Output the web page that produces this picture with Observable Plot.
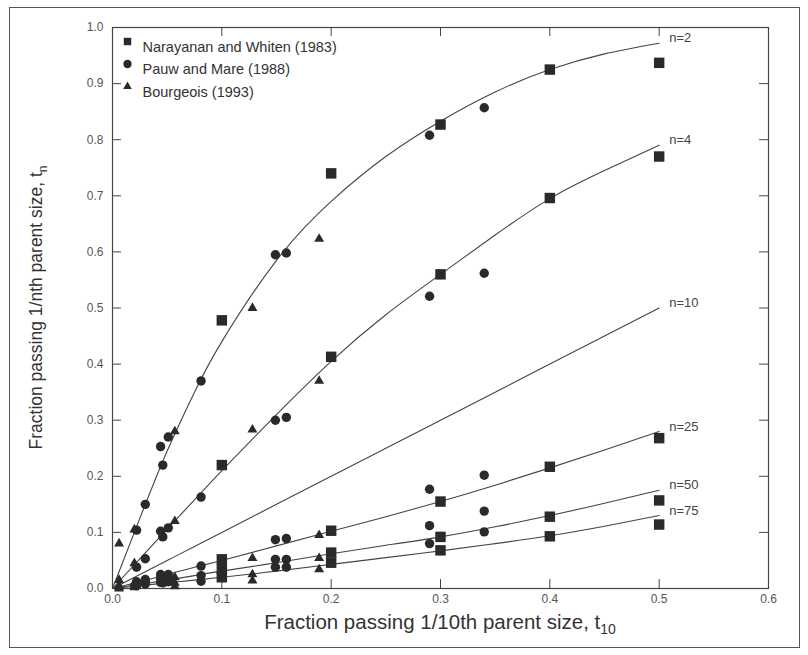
<!DOCTYPE html>
<html><head><meta charset="utf-8">
<script src="https://cdn.jsdelivr.net/npm/d3@7"></script>
<script src="https://cdn.jsdelivr.net/npm/@observablehq/plot@0.6"></script>
<style>
body{margin:0;background:#fff;}
#wrap{position:relative;width:808px;height:655px;}
#border{position:absolute;left:9px;top:7px;width:791px;height:641px;border:1px solid #555;box-sizing:border-box;pointer-events:none;}
#chart{position:absolute;left:0;top:0;}
</style></head><body>
<div id="wrap"><div id="chart"></div><div id="border"></div></div>
<script>
// ---- Data ----
const xTicks = [0, 0.1, 0.2, 0.3, 0.4, 0.5, 0.6];
const yTicks = [0, 0.1, 0.2, 0.3, 0.4, 0.5, 0.6, 0.7, 0.8, 0.9, 1.0];

// fitted curves (t_n vs t10)
const curveX   = [0, 0.025, 0.05, 0.075, 0.1, 0.15, 0.2, 0.25, 0.3, 0.35, 0.4, 0.45, 0.5];
const curveN2  = [0, 0.125, 0.245, 0.35, 0.44, 0.585, 0.69, 0.77, 0.833, 0.885, 0.925, 0.953, 0.972];
const curveN4  = [0, 0.053, 0.106, 0.158, 0.21, 0.31, 0.405, 0.488, 0.56, 0.63, 0.695, 0.745, 0.79];
const curveN10 = [0, 0.025, 0.05, 0.075, 0.1, 0.15, 0.2, 0.25, 0.3, 0.35, 0.4, 0.45, 0.5];
const curveN25 = [0, 0.012, 0.025, 0.038, 0.05, 0.076, 0.102, 0.128, 0.155, 0.184, 0.215, 0.247, 0.28];
const curveN50 = [0, 0.0075, 0.015, 0.023, 0.031, 0.046, 0.062, 0.077, 0.092, 0.11, 0.13, 0.152, 0.175];
const curveN75 = [0, 0.005, 0.01, 0.015, 0.02, 0.031, 0.043, 0.055, 0.067, 0.08, 0.094, 0.111, 0.13];
const curveLabels = ["n=2", "n=4", "n=10", "n=25", "n=50", "n=75"];

// Narayanan and Whiten (1983) - squares
const nwT10 = [0.1, 0.2, 0.3, 0.4, 0.5];
const nwN2  = [0.478, 0.74, 0.827, 0.925, 0.937];
const nwN4  = [0.22, 0.413, 0.56, 0.696, 0.77];
const nwN25 = [0.052, 0.103, 0.155, 0.217, 0.268];
const nwN50 = [0.035, 0.064, 0.092, 0.128, 0.157];
const nwN75 = [0.02, 0.046, 0.068, 0.093, 0.114];

// Pauw and Mare (1988) - circles
const pmT10 = [0.022, 0.03, 0.044, 0.046, 0.051, 0.081, 0.149, 0.159, 0.29, 0.34];
const pmN2  = [0.104, 0.15, 0.253, 0.22, 0.27, 0.37, 0.595, 0.598, 0.808, 0.857];
const pmN4  = [0.038, 0.053, 0.102, 0.092, 0.108, 0.163, 0.30, 0.305, 0.521, 0.562];
const pmN25 = [0.012, 0.016, 0.025, 0.02, 0.025, 0.04, 0.087, 0.089, 0.177, 0.202];
const pmN50 = [0.008, 0.012, 0.018, 0.015, 0.018, 0.023, 0.052, 0.052, 0.112, 0.138];
const pmN75 = [0.005, 0.008, 0.011, 0.01, 0.012, 0.013, 0.038, 0.038, 0.08, 0.101];

// Bourgeois (1993) - triangles
const bgT10 = [0.006, 0.02, 0.057, 0.128, 0.189];
const bgN2  = [0.08, 0.105, 0.28, 0.50, 0.623];
const bgN4  = [0.015, 0.045, 0.12, 0.283, 0.37];
const bgN25 = [0.005, 0.01, 0.02, 0.054, 0.095];
const bgN50 = [0.002, 0.005, 0.01, 0.025, 0.054];
const bgN75 = [0.0, 0.002, 0.004, 0.014, 0.034];

const legendLabels  = ["Narayanan and Whiten (1983)", "Pauw and Mare (1988)", "Bourgeois (1993)"];
const legendSymbols = ["square", "circle", "triangle"];

// ---- Build tables ----
const curveSeries = [curveN2, curveN4, curveN10, curveN25, curveN50, curveN75];
const curves = curveSeries.flatMap((ys, k) => ys.map((y, i) => ({n: curveLabels[k], x: curveX[i], y})));
const curveEnds = curveSeries.map((ys, k) => ({n: curveLabels[k], x: curveX[curveX.length - 1], y: ys[ys.length - 1]}));
const toPts = (xs, series) => series.flatMap(ys => ys.map((y, i) => ({x: xs[i], y})));
const nwPts = toPts(nwT10, [nwN2, nwN4, nwN25, nwN50, nwN75]);
const pmPts = toPts(pmT10, [pmN2, pmN4, pmN25, pmN50, pmN75]);
const bgPts = toPts(bgT10, [bgN2, bgN4, bgN25, bgN50, bgN75]);

const W = 808, H = 655, mL = 112, mR = 40, mT = 27, mB = 67;
const pw = W - mL - mR, ph = H - mT - mB;
const ink = "#2a2a2a";
const narrow = "'Liberation Sans Narrow', 'Liberation Sans', Arial, sans-serif";
const regular = "'Liberation Sans', Arial, sans-serif";

const plot = Plot.plot({
  width: W, height: H,
  marginLeft: mL, marginRight: mR, marginTop: mT, marginBottom: mB,
  style: {fontFamily: narrow, fontSize: "12px", color: "#555", background: "transparent"},
  x: {domain: [0, 0.6]},
  y: {domain: [0, 1]},
  marks: [
    Plot.frame({stroke: "#444", strokeWidth: 1.2}),
    // inward ticks on all four sides
    Plot.tickX(xTicks, {x: d => d, insetTop: ph - 9, stroke: "#444"}),
    Plot.tickX(xTicks.slice(1, -1), {x: d => d, insetBottom: ph - 9, stroke: "#444"}),
    Plot.tickY(yTicks, {y: d => d, insetRight: pw - 9, stroke: "#444"}),
    Plot.tickY(yTicks.slice(1, -1), {y: d => d, insetLeft: pw - 9, stroke: "#444"}),
    Plot.axisX({anchor: "bottom", ticks: xTicks, tickSize: 0, tickPadding: 6, tickFormat: d3.format(".1f"), label: null, fill: "#555"}),
    Plot.axisY({anchor: "left", ticks: yTicks, tickSize: 0, tickPadding: 9, tickFormat: d3.format(".1f"), label: null, fill: "#555"}),
    // fitted curves
    Plot.line(curves, {x: "x", y: "y", z: "n", curve: "natural", stroke: "#444", strokeWidth: 1.1}),
    Plot.text(curveEnds, {x: "x", y: "y", text: "n", dx: 10, dy: -5, textAnchor: "start", fontSize: 13, fontFamily: regular, fill: "#444"}),
    // data points
    Plot.dot(nwPts, {x: "x", y: "y", symbol: "square", r: 5.9, fill: ink, stroke: "none"}),
    Plot.dot(pmPts, {x: "x", y: "y", symbol: "circle", r: 4.7, fill: ink, stroke: "none"}),
    Plot.dot(bgPts, {x: "x", y: "y", symbol: "triangle", r: 3.7, fill: ink, stroke: "none"}),
    // legend inside the frame
    ...legendLabels.flatMap((label, i) => [
      Plot.dot([label], {frameAnchor: "top-left", dx: 15, dy: 14 + i * 22.5, symbol: legendSymbols[i], r: legendSymbols[i] === "triangle" ? 3.2 : 4.2, fill: ink, stroke: "none"}),
      Plot.text([label], {frameAnchor: "top-left", dx: 30, dy: 14 + i * 22.5, text: d => d, textAnchor: "start", fontSize: 14.5, fontFamily: regular, fill: "#333"})
    ])
  ]
});

const svg = d3.select(plot);
// x axis label with subscript
const xl = svg.append("text")
  .attr("x", mL + pw / 2).attr("y", H - 26)
  .attr("text-anchor", "middle").attr("font-family", narrow).attr("font-size", 20.5).attr("fill", "#333");
xl.append("tspan").text("Fraction passing 1/10th parent size, t");
xl.append("tspan").attr("font-size", 14).attr("dy", 5).text("10");
// y axis label with subscript
const yl = svg.append("text")
  .attr("transform", `translate(42, ${mT + ph / 2}) rotate(-90)`)
  .attr("text-anchor", "middle").attr("font-family", regular).attr("font-size", 17.5).attr("fill", "#333");
yl.append("tspan").text("Fraction passing 1/nth parent size, t");
yl.append("tspan").attr("font-size", 12).attr("dy", 5).text("n");

document.getElementById("chart").appendChild(plot);
</script>
</body></html>
